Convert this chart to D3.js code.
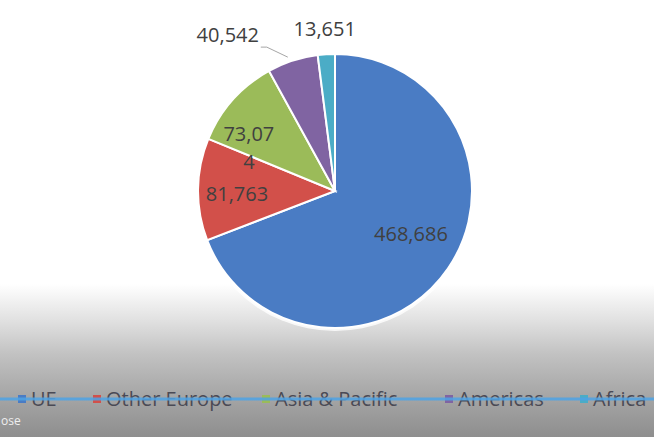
<!DOCTYPE html>
<html>
<head>
<meta charset="utf-8">
<script src="https://cdn.jsdelivr.net/npm/d3@7"></script>
<style>
  body { margin: 0; background: #fff; }
  svg { display: block; }
</style>
</head>
<body>
<div id="chart"></div>
<script>
// Data
const regions = ["UE", "Other Europe", "Asia & Pacific", "Americas", "Africa"];
const values = [468686, 81763, 73074, 40542, 13651];
const colors = ["#4a7cc4", "#d2504a", "#9bbb59", "#8064a2", "#4bacc6"];

const width = 654, height = 437;
const cx = 335, cy = 191, radius = 137;

const svg = d3.select("#chart").append("svg")
    .attr("width", width)
    .attr("height", height);

// background: white on top, fading to grey at the bottom (photo of a slide)
const defs = svg.append("defs");
const grad = defs.append("linearGradient")
    .attr("id", "bg").attr("x1", 0).attr("y1", 0).attr("x2", 0).attr("y2", 1);
[[0, "#ffffff"], [0.65, "#ffffff"], [0.73, "#e2e2e2"], [0.81, "#c2c2c2"], [0.89, "#aaaaaa"], [1, "#8e8e8e"]]
    .forEach(s => grad.append("stop").attr("offset", s[0]).attr("stop-color", s[1]));
svg.append("rect").attr("width", width).attr("height", height).attr("fill", "url(#bg)");

const g = svg.append("g").attr("transform", `translate(${cx},${cy})`);

const pie = d3.pie().sort(null).value(d => d);
const arcs = pie(values);
const arc = d3.arc().innerRadius(0).outerRadius(radius);

// soft white halo round the pie
g.append("circle").attr("r", radius + 3).attr("fill", "#fff").attr("opacity", 0.8);

g.selectAll("path.slice")
    .data(arcs)
    .join("path")
    .attr("class", "slice")
    .attr("d", arc)
    .attr("fill", (d, i) => colors[i])
    .attr("stroke", "#fff")
    .attr("stroke-width", 2);

// data labels - each label sits at a radius / angle shift from its slice middle
const fmt = d3.format(",");
const labelPlace = [
    { r: 0.637, da: -5, lines: null },
    { r: 0.716, da: -2.5, lines: null },
    { r: 0.704, da: -15.1, lines: ["73,07", "4"] },
    { r: 1.381, da: -16.5, lines: null },
    { r: 1.185, da: 0, lines: null }
];

const labelFont = "'Open Sans', 'Noto Sans', sans-serif";
const labelPos = [];

arcs.forEach((d, i) => {
    const p = labelPlace[i];
    const a = (d.startAngle + d.endAngle) / 2 + p.da * Math.PI / 180;
    const x = Math.sin(a) * radius * p.r;
    const y = -Math.cos(a) * radius * p.r;
    labelPos.push([x, y]);
    const lines = p.lines || [fmt(values[i])];
    const t = g.append("text")
        .attr("text-anchor", "middle")
        .attr("font-family", labelFont)
        .attr("font-size", 20)
        .attr("fill", "#404040");
    lines.forEach((s, k) => {
        t.append("tspan")
            .attr("x", x)
            .attr("y", y + (k - (lines.length - 1) / 2) * 28)
            .attr("dy", "0.35em")
            .text(s);
    });
});

// leader line for the Americas label
{
    const d = arcs[3];
    const a = (d.startAngle + d.endAngle) / 2 - 1.4 * Math.PI / 180;
    const inner = [Math.sin(a) * radius * 1.036, -Math.cos(a) * radius * 1.036];
    const lp = labelPos[3];
    const outer = [lp[0] + 39, lp[1] + 12];
    g.append("path")
        .attr("d", `M${outer[0] - 6},${outer[1]}L${outer[0]},${outer[1]}L${inner[0]},${inner[1]}`)
        .attr("fill", "none")
        .attr("stroke", "#a6a6a6")
        .attr("stroke-width", 1);
}

// legend
const legendY = 399;
const legendX = [18, 93, 262, 445, 580];
const leg = svg.append("g");
regions.forEach((r, i) => {
    const item = leg.append("g").attr("transform", `translate(${legendX[i]},${legendY})`);
    item.append("rect")
        .attr("x", 0).attr("y", -4)
        .attr("width", 8).attr("height", 8)
        .attr("fill", colors[i]);
    item.append("text")
        .attr("x", 13)
        .attr("dy", "0.35em")
        .attr("font-family", labelFont)
        .attr("font-size", 20)
        .attr("fill", "#4a4a55")
        .text(r);
});

// blue progress line over the legend (video overlay)
svg.append("line")
    .attr("x1", 0).attr("x2", width)
    .attr("y1", legendY).attr("y2", legendY)
    .attr("stroke", "#4ea3e6")
    .attr("stroke-width", 3)
    .attr("opacity", 0.85);

svg.append("text")
    .attr("x", 1).attr("y", 425)
    .attr("font-family", labelFont)
    .attr("font-size", 12)
    .attr("fill", "#eeeeee")
    .text("ose");
</script>
</body>
</html>
